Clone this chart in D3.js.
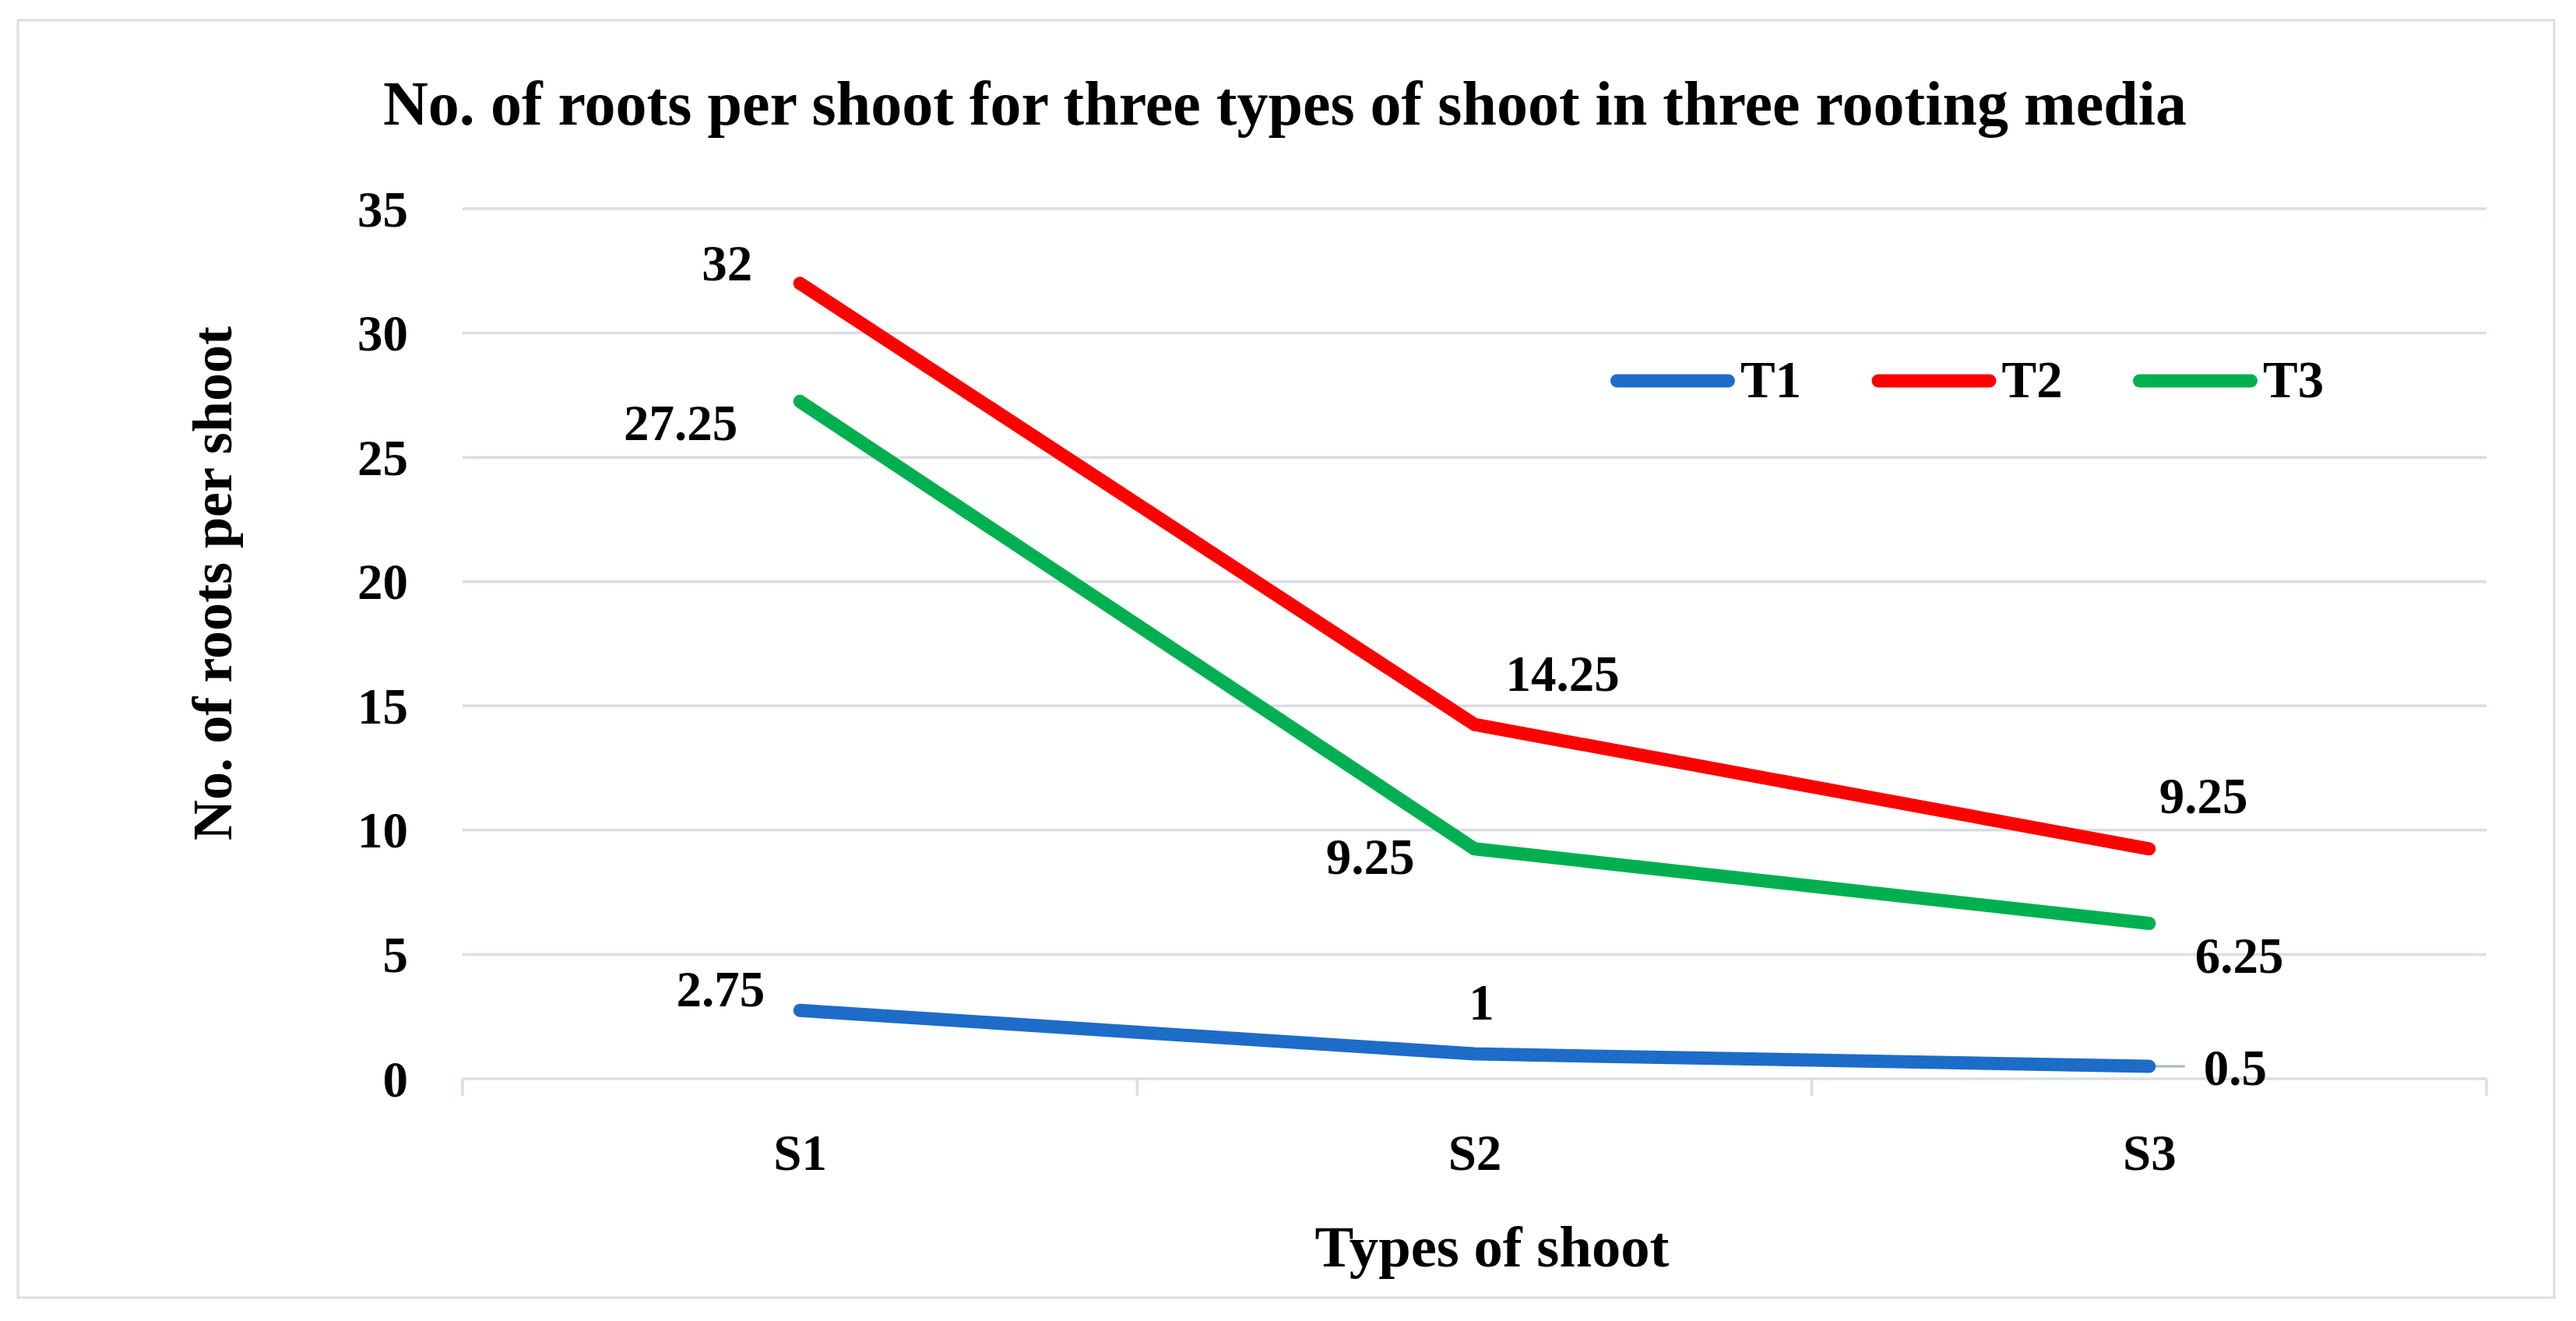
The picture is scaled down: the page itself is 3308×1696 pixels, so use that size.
<!DOCTYPE html>
<html>
<head>
<meta charset="utf-8">
<script src="https://cdn.jsdelivr.net/npm/d3@7"></script>
<style>
  html, body { margin: 0; padding: 0; background: #ffffff; }
  svg { display: block; }
  text { font-family: "Liberation Serif", "Times New Roman", serif; font-weight: bold; fill: #000; }
</style>
</head>
<body>
<script>
// ---- data ----
const categories = ["S1", "S2", "S3"];
const seriesNames = ["T1", "T2", "T3"];
const t1Values = [2.75, 1, 0.5];
const t2Values = [32, 14.25, 9.25];
const t3Values = [27.25, 9.25, 6.25];
const yTicks = [0, 5, 10, 15, 20, 25, 30, 35];
const chartTitle = "No. of roots per shoot for three types of shoot in three rooting media";
const xTitle = "Types of shoot";
const yTitle = "No. of roots per shoot";

// ---- styles / layout (not data) ----
const colors = { T1: "#1d6cc8", T2: "#ff0000", T3: "#00b050" };
// manual label placement relative to each point: [dx, dy, anchor]
const labelLayout = {
  T1: [[-45, -5, "end"], [9, -44, "middle"], [70, 24, "start"]],
  T2: [[-61, -4, "end"], [40, -43, "start"], [13, -46, "start"]],
  T3: [[-80, 50, "end"], [-77, 32, "end"], [59, 63, "start"]]
};

const W = 3308, H = 1696;
const plot = { left: 594, right: 3193, top: 268, bottom: 1385 };

const svg = d3.select("body").append("svg").attr("width", W).attr("height", H);
svg.append("rect").attr("width", W).attr("height", H).attr("fill", "#fff");

// outer border
svg.append("rect").attr("x", 23).attr("y", 26).attr("width", 3280 - 23).attr("height", 1666 - 26)
  .attr("fill", "none").attr("stroke", "#d9dee5").attr("stroke-width", 3);

const y = d3.scaleLinear().domain([0, 35]).range([plot.bottom, plot.top]);
const xb = d3.scaleBand().domain(categories).range([plot.left, plot.right]);
const x = d3.scalePoint().domain(categories).range([plot.left, plot.right]).padding(0.5);

// gridlines
svg.append("g").selectAll("line").data(yTicks).join("line")
  .attr("x1", plot.left).attr("x2", plot.right)
  .attr("y1", d => y(d)).attr("y2", d => y(d))
  .attr("stroke", "#d9dee5").attr("stroke-width", 3.5);

// y axis labels
const yAxis = d3.axisLeft(y).tickValues(yTicks).tickSize(0).tickPadding(70).tickFormat(d3.format("d"));
const yg = svg.append("g").attr("transform", `translate(${plot.left},0)`).call(yAxis);
yg.select(".domain").remove();
yg.selectAll("text").attr("font-size", 65).attr("font-family", "Liberation Serif").attr("font-weight", "bold").attr("fill", "#000").attr("dy", "0.34em");

// category axis ticks (between categories)
const bounds = categories.map(c => xb(c)).concat([plot.right]);
svg.append("g").selectAll("line").data(bounds).join("line")
  .attr("x1", d => d).attr("x2", d => d)
  .attr("y1", plot.bottom).attr("y2", plot.bottom + 22)
  .attr("stroke", "#d9dee5").attr("stroke-width", 3.5);

// x axis labels
const xAxis = d3.axisBottom(x).tickSize(0).tickPadding(0);
const xg = svg.append("g").attr("transform", `translate(0,${plot.bottom})`).call(xAxis);
xg.select(".domain").remove();
xg.selectAll("text").attr("font-size", 65).attr("font-family", "Liberation Serif").attr("font-weight", "bold").attr("fill", "#000")
  .attr("y", 117).attr("dy", 0);

// lines
const seriesData = [
  { name: "T1", values: t1Values },
  { name: "T2", values: t2Values },
  { name: "T3", values: t3Values }
];
const line = d3.line().x((d, i) => x(categories[i])).y(d => y(d));

// leader line for T1 S3 label
const lead = seriesData[0];
svg.append("line")
  .attr("x1", x(categories[2])).attr("x2", x(categories[2]) + 46)
  .attr("y1", y(lead.values[2])).attr("y2", y(lead.values[2]))
  .attr("stroke", "#a8b6c8").attr("stroke-width", 3);

svg.append("g").selectAll("path").data(seriesData).join("path")
  .attr("d", d => line(d.values))
  .attr("fill", "none")
  .attr("stroke", d => colors[d.name])
  .attr("stroke-width", 17)
  .attr("stroke-linecap", "round")
  .attr("stroke-linejoin", "round");

// data labels
seriesData.forEach(s => {
  svg.append("g").selectAll("text").data(s.values).join("text")
    .attr("x", (d, i) => x(categories[i]) + labelLayout[s.name][i][0])
    .attr("y", (d, i) => y(d) + labelLayout[s.name][i][1])
    .attr("text-anchor", (d, i) => labelLayout[s.name][i][2])
    .attr("font-size", 65)
    .text(d => d);
});

// legend
const lg = svg.append("g");
seriesNames.forEach((n, i) => {
  const lx = 2068 + i * 335.5;
  lg.append("line").attr("x1", lx + 8.5).attr("x2", lx + 160 - 8.5).attr("y1", 489).attr("y2", 489)
    .attr("stroke", colors[n]).attr("stroke-width", 17).attr("stroke-linecap", "round");
  lg.append("text").attr("x", lx + 167).attr("y", 510).attr("font-size", 67).text(n);
});

// fit helper: scale font size so that text spans target width
function fit(sel, target) {
  const fs = +sel.attr("font-size");
  const w = sel.node().getComputedTextLength();
  sel.attr("font-size", fs * target / w);
}

// title
const t = svg.append("text").attr("x", 1650).attr("y", 160).attr("text-anchor", "middle")
  .attr("font-size", 75).text(chartTitle);
fit(t, 2316);

// x title
const xt = svg.append("text").attr("x", 1916).attr("y", 1626).attr("text-anchor", "middle")
  .attr("font-size", 68).text(xTitle);
fit(xt, 455);

// y title
const yt = svg.append("text").attr("transform", "translate(297,749) rotate(-90)")
  .attr("text-anchor", "middle").attr("font-size", 70).text(yTitle);
fit(yt, 660);
</script>
</body>
</html>
